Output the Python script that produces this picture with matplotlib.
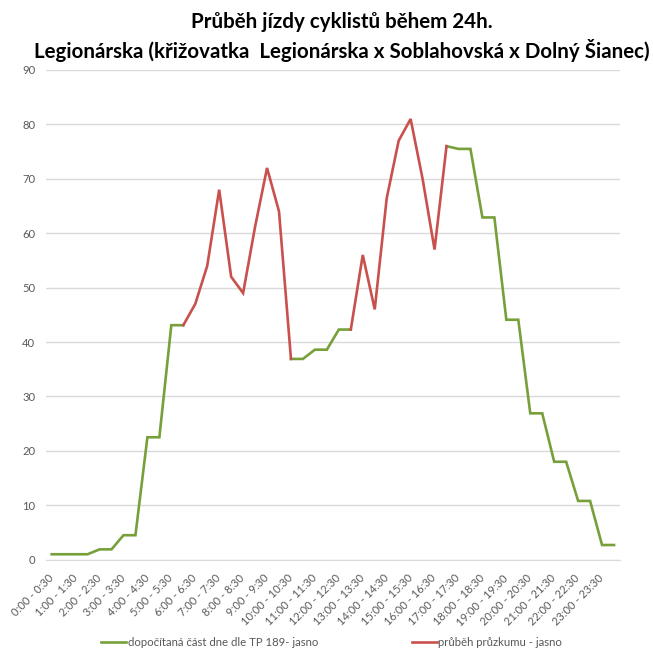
import numpy as np
import matplotlib
matplotlib.use("Agg")
import matplotlib.pyplot as plt

plt.rcParams['font.family'] = ['Lato', 'DejaVu Sans']

nan = np.nan
tick_labels = [f"{h}:00 - {h}:30" for h in range(24)]

green_values = [1.0, 1.0, 1.0, 1.0, 1.9, 1.9, 4.5, 4.5, 22.5, 22.5, 43.1, 43.1,
                nan, nan, nan, nan, nan, nan, nan, nan,
                36.9, 36.9, 38.6, 38.6, 42.3, 42.3,
                nan, nan, nan, nan, nan, nan, nan,
                76.0, 75.5, 75.5, 62.9, 62.9, 44.1, 44.1, 26.9, 26.9, 18.0, 18.0,
                10.8, 10.8, 2.7, 2.7]

red_values = [nan] * 11 + [43.1, 47.0, 54.0, 68.0, 52.0, 49.0, 61.2, 72.0, 64.0, 36.9,
               nan, nan, nan, nan,
               42.3, 56.0, 46.0, 66.4, 77.0, 81.0, 70.0, 57.0, 76.0] + [nan] * 14

green_label = "dopočítaná část dne dle TP 189- jasno"
red_label = "průběh průzkumu - jasno"
title1 = "Průběh jízdy cyklistů během 24h."
title2 = "Legionárska (křižovatka  Legionárska x Soblahovská x Dolný Šianec)"

W, H = 653, 649
fig = plt.figure(figsize=(W / 100, H / 100), dpi=100)
renderer = fig.canvas.get_renderer()


def fitted_size(s, target_px, weight='normal', base=10.0):
    t = fig.text(0, 0, s, fontsize=base, fontweight=weight)
    w = t.get_window_extent(renderer).width
    t.remove()
    return base * target_px / w


title_fs = fitted_size(title2, 617, weight='bold')
tick_fs = fitted_size("0:00 - 0:30", 54)
ytick_fs = fitted_size("90", 13)
leg_fs = fitted_size(green_label, 190)

ax = fig.add_axes([45.7 / W, 1 - 559.7 / H, (620 - 45.7) / W, (559.7 - 70) / H])

x = np.arange(len(green_values))
gl, = ax.plot(x, green_values, color='#77A03B', lw=1.9, solid_joinstyle='miter')
rl, = ax.plot(x, red_values, color='#C8504D', lw=1.9, solid_joinstyle='miter')

ax.set_xlim(-0.5, len(x) - 0.5)
ax.set_ylim(0, 90)
ax.set_yticks(range(0, 91, 10))
ax.yaxis.grid(True, color='#D9D9D9', lw=1.0)
ax.set_axisbelow(True)
for s in ['left', 'right', 'top']:
    ax.spines[s].set_visible(False)
ax.spines['bottom'].set_color('#D9D9D9')
ax.tick_params(axis='y', length=0, labelsize=ytick_fs, labelcolor='#595959', pad=7.5)
ax.set_xticks(x[::2])
ax.set_xticklabels(tick_labels, rotation=45, ha='right', va='center',
                   rotation_mode='anchor', fontsize=tick_fs, color='#595959')
ax.tick_params(axis='x', length=0, pad=12)

fig.text(341.5 / W, 1 - 28 / H, title1, fontsize=title_fs, fontweight='bold',
         ha='center', va='baseline', color='#000000')
fig.text(341.5 / W, 1 - 57.5 / H, title2, fontsize=title_fs, fontweight='bold',
         ha='center', va='baseline', color='#000000')

fs_px = leg_fs * 100 / 72
leg_y = 1 - 642.7 / H
for handle, label, x0 in [(gl, green_label, 101), (rl, red_label, 412)]:
    leg = fig.legend(handles=[handle], labels=[label], loc='center left',
                     bbox_to_anchor=(x0 / W, leg_y), frameon=False,
                     borderpad=0, borderaxespad=0, fontsize=leg_fs,
                     handlelength=25 / fs_px, handletextpad=1.5 / fs_px)
    for t in leg.get_texts():
        t.set_color('#595959')

fig.savefig('out.png', dpi=100)
